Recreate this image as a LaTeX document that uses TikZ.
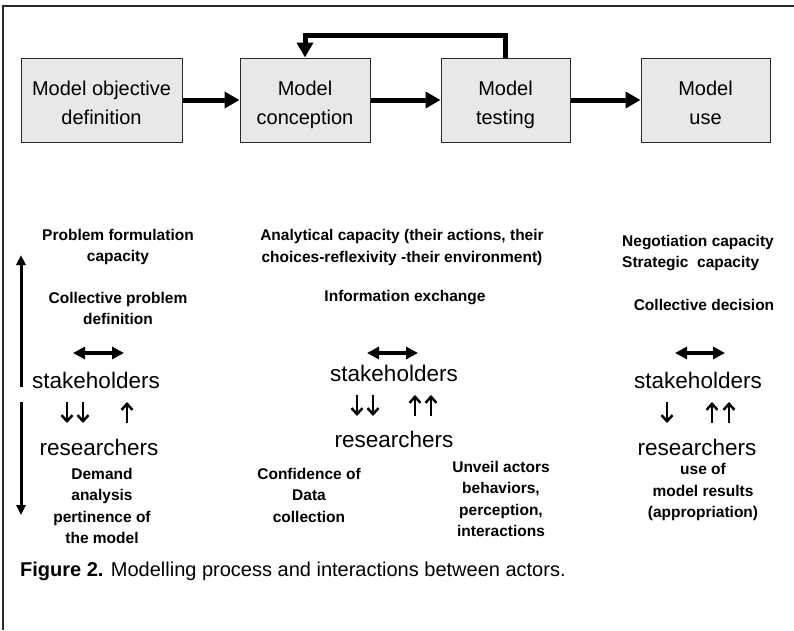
\documentclass[tikz,border=0pt]{standalone}
\usepackage{fontspec}
\setmainfont{Liberation Sans}
\usetikzlibrary{arrows.meta}
\definecolor{boxfill}{HTML}{E8E8E8}
\definecolor{edgegray}{HTML}{2A2A2A}
\begin{document}
\begin{tikzpicture}[x=1pt,y=-1pt,
  stage/.style={draw=edgegray, line width=1pt, fill=boxfill, inner sep=0pt, minimum height=84pt},
  stagetext/.style={align=center, font=\fontsize{20}{29}\selectfont, inner sep=0pt, yshift=-3.7pt},
  flow/.style={line width=5pt, -{Triangle[length=15pt,width=16pt]}},
  note/.style={font=\fontsize{15.5}{21.5}\selectfont\bfseries, align=center, inner sep=0pt},
  actor/.style={font=\fontsize{22.5}{27}\selectfont, inner sep=0pt},
  exchange/.style={line width=4.5pt, {Triangle[length=12pt,width=12pt]}-{Triangle[length=12pt,width=12pt]}},
  smallarrow/.style={line width=2.5pt, -{Straight Barb[length=6pt,width=11pt]}},
  sidearrow/.style={line width=3pt, -{Triangle[length=10pt,width=9pt]}}
]
\useasboundingbox (0,0) rectangle (794,630);

% outer frame (top and left edges)
\draw[edgegray, line width=1.5pt] (794,6) -- (3,6) -- (3,630);

% process stages
\node[stage, minimum width=161pt] (b1) at (101.5,100) {};
\node[stage, minimum width=130pt] (b2) at (305,100) {};
\node[stage, minimum width=129pt] (b3) at (505.5,100) {};
\node[stage, minimum width=129pt] (b4) at (705.5,100) {};
\node[stagetext] (t1) at (b1) {\strut Model objective\\definition\strut};
\node[stagetext] (t2) at (b2) {\strut Model\\conception\strut};
\node[stagetext] (t3) at (b3) {\strut Model\\testing\strut};
\node[stagetext] (t4) at (b4) {\strut Model\\use\strut};

\draw[flow] (b1) -- (b2);
\draw[flow] (b2) -- (b3);
\draw[flow] (b3) -- (b4);
\draw[flow] (b3.north) -- ++(0,-22) -| (b2.north);

% left column: objective definition
\node[note] (pf) at (118,247) {Problem formulation\\capacity};
\node[note] (cpd) at (118,308.5) {Collective problem\\definition};
\node[actor] (ls) at (96,380) {stakeholders};
\node[actor] (lr) at (99,447) {researchers};
\node[note] (dem) at (102,506) {Demand\\analysis\\pertinence of\\the model};

\coordinate (lxa) at (73,353);  \coordinate (lxb) at (124,353);
\draw[exchange] (lxa) -- (lxb);
\coordinate (ld1a) at (67,402);  \coordinate (ld1b) at (67,423);
\coordinate (ld2a) at (83,402);  \coordinate (ld2b) at (83,423);
\coordinate (lu1a) at (127,423); \coordinate (lu1b) at (127,402);
\draw[smallarrow] (ld1a) -- (ld1b);
\draw[smallarrow] (ld2a) -- (ld2b);
\draw[smallarrow] (lu1a) -- (lu1b);

\coordinate (vupa) at (21,387);  \coordinate (vupb) at (21,255);
\coordinate (vdna) at (21,402);  \coordinate (vdnb) at (21,515);
\draw[sidearrow] (vupa) -- (vupb);
\draw[sidearrow] (vdna) -- (vdnb);

% middle column: conception and testing
\node[note] (ac) at (402,247.5) {Analytical capacity (their actions, their\\choices-reflexivity -their environment)};
\node[note] (ie) at (405,298) {Information exchange};
\node[actor] (ms) at (394,373) {stakeholders};
\node[actor] (mr) at (394,439) {researchers};
\node[note] (cdc) at (309,495) {Confidence of\\Data\\collection};
\node[note] (uab) at (501,499) {Unveil actors\\behaviors,\\perception,\\interactions};

\coordinate (mxa) at (367,353);  \coordinate (mxb) at (418,353);
\draw[exchange] (mxa) -- (mxb);
\coordinate (md1a) at (357,395);  \coordinate (md1b) at (357,416);
\coordinate (md2a) at (373,395);  \coordinate (md2b) at (373,416);
\coordinate (mu1a) at (415,416);  \coordinate (mu1b) at (415,395);
\coordinate (mu2a) at (431,416);  \coordinate (mu2b) at (431,395);
\draw[smallarrow] (md1a) -- (md1b);
\draw[smallarrow] (md2a) -- (md2b);
\draw[smallarrow] (mu1a) -- (mu1b);
\draw[smallarrow] (mu2a) -- (mu2b);

% right column: model use
\node[note, align=left, anchor=west] (neg) at (622,253) {Negotiation capacity\\Strategic~ capacity};
\node[note] (cd) at (704,305) {Collective decision};
\node[actor] (rs) at (698,380) {stakeholders};
\node[actor] (rr) at (697,447) {researchers};
\node[note] (umr) at (703,492) {use of\\model results\\(appropriation)};

\coordinate (rxa) at (675,353);  \coordinate (rxb) at (725,353);
\draw[exchange] (rxa) -- (rxb);
\coordinate (rd1a) at (667,402);  \coordinate (rd1b) at (667,423);
\coordinate (ru1a) at (712,423);  \coordinate (ru1b) at (712,402);
\coordinate (ru2a) at (729,423);  \coordinate (ru2b) at (729,402);
\draw[smallarrow] (rd1a) -- (rd1b);
\draw[smallarrow] (ru1a) -- (ru1b);
\draw[smallarrow] (ru2a) -- (ru2b);

% caption
\node[anchor=base west, font=\fontsize{20}{24}\selectfont, inner sep=0pt] (cap) at (20,576)
  {\textbf{Figure 2.} Modelling process and interactions between actors.};
\end{tikzpicture}
\end{document}
